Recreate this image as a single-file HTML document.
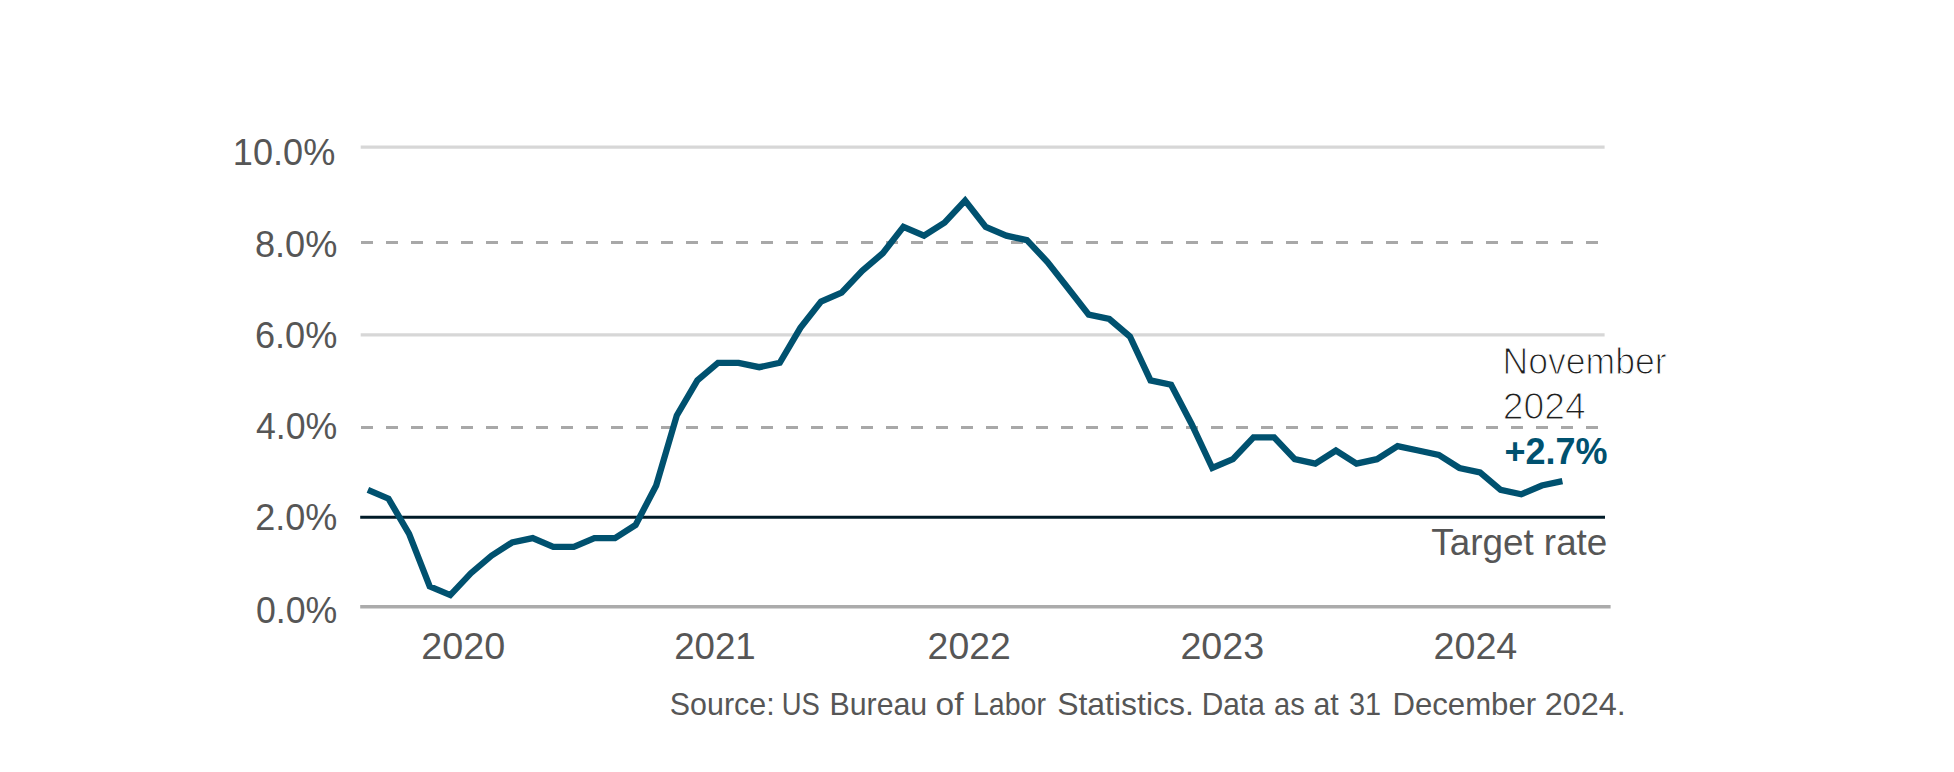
<!DOCTYPE html>
<html lang="en">
<head>
<meta charset="utf-8">
<title>US inflation chart</title>
<style>
html,body{margin:0;padding:0;background:#fff;}
body{width:1954px;height:772px;overflow:hidden;}
svg{display:block;}
text{font-family:"Liberation Sans", sans-serif;}
.ax{font-size:36px;fill:#565656;}
.tr{font-size:36.3px;fill:#565656;}
.src{font-size:31.2px;fill:#565656;}
.ann{font-size:36px;fill:#1e1e1e;stroke:#fff;stroke-width:1.1px;}
.val{font-size:37.2px;font-weight:bold;fill:#00516f;}
</style>
</head>
<body>
<svg width="1954" height="772" viewBox="0 0 1954 772">
<rect width="1954" height="772" fill="#ffffff"/>
<!-- gridlines -->
<line x1="360.7" x2="1604.6" y1="147.1" y2="147.1" stroke="#d7d7d7" stroke-width="3.2"/>
<line x1="361" x2="1604.6" y1="242.5" y2="242.5" stroke="#a8a8a8" stroke-width="3" stroke-dasharray="12 13"/>
<line x1="360.7" x2="1604.6" y1="334.8" y2="334.8" stroke="#d7d7d7" stroke-width="3.2"/>
<line x1="361" x2="1604.6" y1="427.5" y2="427.5" stroke="#a8a8a8" stroke-width="3" stroke-dasharray="12 13"/>
<line x1="360.2" x2="1610.6" y1="606.7" y2="606.7" stroke="#ababab" stroke-width="3.4"/>
<line x1="360.2" x2="1605" y1="517.3" y2="517.3" stroke="#011b28" stroke-width="3.1"/>
<!-- data line -->
<path d="M367.9,489.9 L388.5,498.7 L409.1,533.8 L429.7,586.4 L450.3,595.1 L470.9,573.2 L491.5,555.7 L512.1,542.5 L532.7,538.1 L553.3,546.9 L573.8,546.9 L594.4,538.1 L615.0,538.1 L635.6,525.0 L656.2,485.5 L676.8,415.4 L697.4,380.4 L718.0,362.8 L738.6,362.8 L759.2,367.2 L779.8,362.8 L800.4,327.8 L821.0,301.5 L841.6,292.7 L862.2,270.8 L882.8,253.2 L903.4,226.9 L924.0,235.7 L944.6,222.6 L965.1,200.6 L985.7,226.9 L1006.3,235.7 L1026.9,240.1 L1047.5,262.0 L1068.1,288.3 L1088.7,314.6 L1109.3,319.0 L1129.9,336.5 L1150.5,380.4 L1171.1,384.7 L1191.7,424.2 L1212.3,468.0 L1232.9,459.2 L1253.5,437.3 L1274.1,437.3 L1294.7,459.2 L1315.3,463.6 L1335.9,450.5 L1356.5,463.6 L1377.0,459.2 L1397.6,446.1 L1418.2,450.5 L1438.8,454.9 L1459.4,468.0 L1480.0,472.4 L1500.6,489.9 L1521.2,494.3 L1541.8,485.5 L1562.4,481.2" fill="none" stroke="#00516f" stroke-width="6.3" stroke-linejoin="miter" stroke-linecap="butt"/>
<!-- y axis labels -->
<text class="ax" x="232.89" y="164.9" textLength="102.39" lengthAdjust="spacingAndGlyphs">10.0%</text>
<text class="ax" x="254.99" y="256.7" textLength="82.37" lengthAdjust="spacingAndGlyphs">8.0%</text>
<text class="ax" x="254.99" y="347.6" textLength="82.37" lengthAdjust="spacingAndGlyphs">6.0%</text>
<text class="ax" x="256.01" y="438.5" textLength="81.34" lengthAdjust="spacingAndGlyphs">4.0%</text>
<text class="ax" x="255.2" y="530.4" textLength="82.17" lengthAdjust="spacingAndGlyphs">2.0%</text>
<text class="ax" x="256.01" y="622.6" textLength="81.34" lengthAdjust="spacingAndGlyphs">0.0%</text>
<!-- x axis labels -->
<text class="ax" x="421.2" y="658.6" textLength="83.94" lengthAdjust="spacingAndGlyphs">2020</text>
<text class="ax" x="674.16" y="658.6" textLength="81.57" lengthAdjust="spacingAndGlyphs">2021</text>
<text class="ax" x="927.63" y="658.6" textLength="83.04" lengthAdjust="spacingAndGlyphs">2022</text>
<text class="ax" x="1180.41" y="658.6" textLength="83.68" lengthAdjust="spacingAndGlyphs">2023</text>
<text class="ax" x="1433.51" y="658.6" textLength="83.84" lengthAdjust="spacingAndGlyphs">2024</text>
<!-- annotations -->
<text class="ann" x="1502.44" y="374.0" textLength="164.11" lengthAdjust="spacingAndGlyphs">November</text>
<text class="ann" x="1502.83" y="419.3" textLength="82.9" lengthAdjust="spacingAndGlyphs">2024</text>
<text class="val" x="1504.43" y="464.1" textLength="103.04" lengthAdjust="spacingAndGlyphs">+2.7%</text>
<text class="tr" x="1431.29" y="554.8" textLength="176.05" lengthAdjust="spacingAndGlyphs">Target rate</text>
<!-- source -->
<text class="src" x="669.85" y="714.8" textLength="104.77" lengthAdjust="spacingAndGlyphs">Source:</text>
<text class="src" x="781.74" y="714.8" textLength="38.13" lengthAdjust="spacingAndGlyphs">US</text>
<text class="src" x="829.46" y="714.8" textLength="97.78" lengthAdjust="spacingAndGlyphs">Bureau</text>
<text class="src" x="935.62" y="714.8" textLength="27.99" lengthAdjust="spacingAndGlyphs">of</text>
<text class="src" x="972.97" y="714.8" textLength="73.05" lengthAdjust="spacingAndGlyphs">Labor</text>
<text class="src" x="1057.15" y="714.8" textLength="136.76" lengthAdjust="spacingAndGlyphs">Statistics.</text>
<text class="src" x="1201.68" y="714.8" textLength="63.11" lengthAdjust="spacingAndGlyphs">Data</text>
<text class="src" x="1274.07" y="714.8" textLength="30.72" lengthAdjust="spacingAndGlyphs">as</text>
<text class="src" x="1313.43" y="714.8" textLength="25.29" lengthAdjust="spacingAndGlyphs">at</text>
<text class="src" x="1349.08" y="714.8" textLength="32.1" lengthAdjust="spacingAndGlyphs">31</text>
<text class="src" x="1392.4" y="714.8" textLength="143.77" lengthAdjust="spacingAndGlyphs">December</text>
<text class="src" x="1544.76" y="714.8" textLength="81.11" lengthAdjust="spacingAndGlyphs">2024.</text>
</svg>
</body>
</html>
